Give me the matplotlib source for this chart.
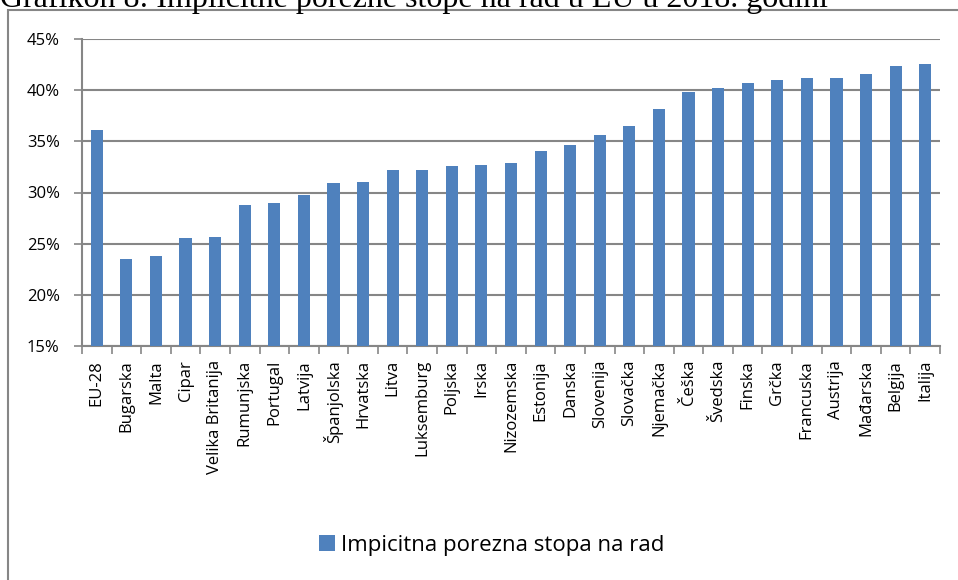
import matplotlib.pyplot as plt
from matplotlib.patches import Rectangle
from matplotlib.ticker import FuncFormatter, FixedLocator

zemlje = ['EU-28', 'Bugarska', 'Malta', 'Cipar', 'Velika Britanija', 'Rumunjska',
          'Portugal', 'Latvija', 'Španjolska', 'Hrvatska', 'Litva', 'Luksemburg',
          'Poljska', 'Irska', 'Nizozemska', 'Estonija', 'Danska', 'Slovenija',
          'Slovačka', 'Njemačka', 'Češka', 'Švedska', 'Finska', 'Grčka',
          'Francuska', 'Austrija', 'Mađarska', 'Belgija', 'Italija']
stope = [36.1, 23.5, 23.8, 25.6, 25.7, 28.8, 29.0, 29.8, 30.9, 31.0, 32.2, 32.2,
         32.6, 32.7, 32.9, 34.1, 34.6, 35.6, 36.5, 38.2, 39.8, 40.2, 40.7, 41.0,
         41.2, 41.2, 41.6, 42.4, 42.6]
naslov = 'Grafikon 8: Implicitne porezne stope na rad u EU u 2018. godini'
legenda = 'Impicitna porezna stopa na rad'

plt.rcParams['font.family'] = ['Open Sans', 'DejaVu Sans']
siva = '#868686'

fig = plt.figure(figsize=(9.58, 5.8), dpi=100)
# okvir grafikona (desni i donji rub izlaze izvan slike)
fig.patches.append(Rectangle((8 / 958, -0.1), 1.0, 1.1 - 10 / 580,
                             transform=fig.transFigure, fill=False,
                             edgecolor=siva, linewidth=1.5))
fig.text(0.0, 1 - 7 / 580, naslov, family='Liberation Serif', fontsize=23,
         ha='left', va='baseline')

ax = fig.add_axes([82 / 958, 1 - 346 / 580, 858 / 958, 307 / 580])
x = range(len(zemlje))
ax.bar(x, stope, width=0.41, color='#4F81BD', label=legenda, zorder=3)
ax.set_ylim(15, 45)
ax.set_xlim(-0.5, len(zemlje) - 0.5)
ax.set_yticks(range(15, 50, 5))
ax.yaxis.set_major_formatter(FuncFormatter(lambda v, p: f'{v:.0f}%'))
ax.yaxis.grid(True, color=siva, linewidth=1.5, zorder=0)
ax.set_xticks(list(x))
ax.set_xticklabels(zemlje, rotation=90, fontsize=12)
ax.tick_params(axis='x', length=0, pad=10)
ax.xaxis.set_minor_locator(FixedLocator([i - 0.5 for i in range(len(zemlje) + 1)]))
ax.tick_params(axis='x', which='minor', length=6, color=siva, width=1.2)
ax.tick_params(axis='y', length=6, color=siva, width=1.2, labelsize=12, pad=10)
for s in ['top', 'right']:
    ax.spines[s].set_visible(False)
for s in ['left', 'bottom']:
    ax.spines[s].set_color(siva)
    ax.spines[s].set_linewidth(1.5)

fig.legend(loc='center', bbox_to_anchor=(492 / 958, 1 - 545 / 580), frameon=False,
           fontsize=16, handlelength=0.7, handleheight=0.7, handletextpad=0.3)

fig.savefig('out.png', dpi=100)
